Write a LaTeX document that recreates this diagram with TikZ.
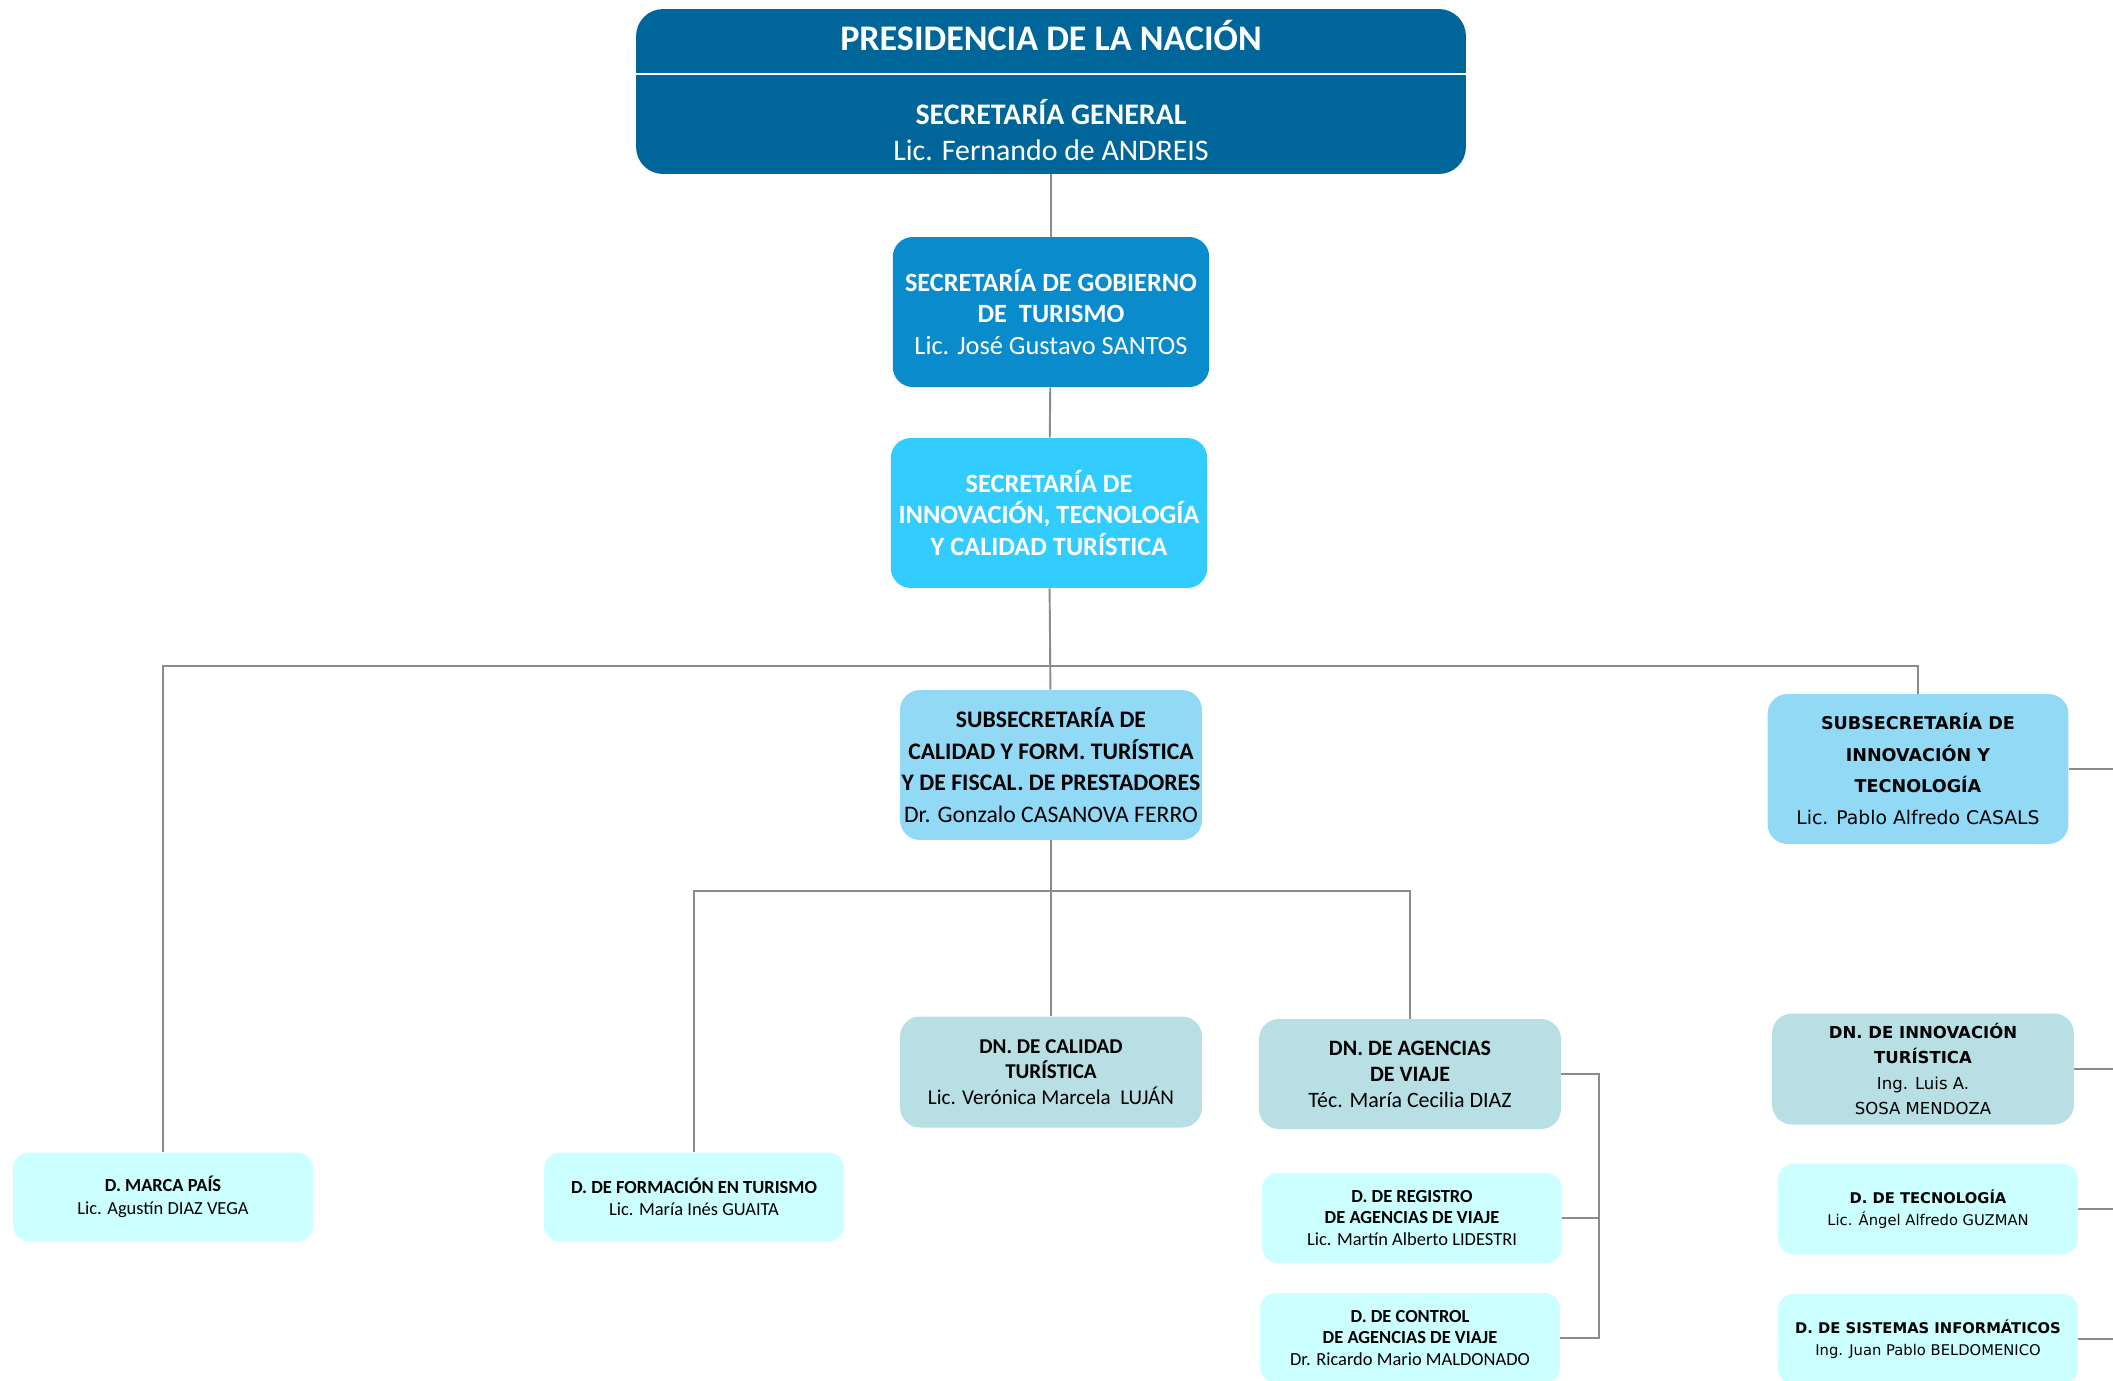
\documentclass[tikz,border=0pt]{standalone}
\usepackage{fontspec}
\setmainfont{Carlito}
\newfontfamily\verd{DejaVu Sans}
\definecolor{presi}{HTML}{00669A}
\definecolor{gobi}{HTML}{0A8BCC}
\definecolor{innov}{HTML}{33CCFF}
\definecolor{subs}{HTML}{92D9F6}
\definecolor{dnac}{HTML}{B8DFE3}
\definecolor{dire}{HTML}{CCFFFF}
\definecolor{wire}{HTML}{8C8C8C}
\tikzset{
  box/.style={rounded corners=0.4cm,inner sep=0pt,align=center,minimum width=6.04cm},
  secbox/.style={box,fill=#1,text=white,minimum width=6.33cm,minimum height=3cm,font=\fontsize{15}{18}\selectfont},
  subbox/.style={box,fill=subs,minimum height=3cm,font=\fontsize{13.5}{18}\selectfont},
  dnbox/.style={box,fill=dnac,minimum height=2.22cm,font=\fontsize{12}{14.5}\selectfont},
  dbox/.style={box,fill=dire,rounded corners=0.32cm,minimum width=6cm,minimum height=1.78cm,font=\fontsize{10.5}{12.8}\selectfont},
  conn/.style={draw=wire,line width=1.1pt},
}
\begin{document}
\begin{tikzpicture}[x=0.02cm,y=-0.02cm]
  \useasboundingbox (0,0) rectangle (2113,1380);
  % cabecera
  \node[box,fill=presi,rounded corners=0.54cm,minimum width=16.6cm,minimum height=3.3cm] (pres) at (1051,91.5) {};
  \draw[white,line width=0.7pt] (636,74) -- (1466,74);
  \node[text=white,font=\bfseries\fontsize{20.5}{24}\selectfont] (presT) at (1051,35) {PRESIDENCIA DE LA NACIÓN};
  \node[text=white,align=center,font=\fontsize{17}{20.6}\selectfont] (sg) at (1051,130)
    {\textbf{SECRETARÍA GENERAL}\\Lic. Fernando de ANDREIS};
  % secretarias
  \node[secbox=gobi] (gob) at (1051,312)
    {\textbf{SECRETARÍA DE GOBIERNO}\\\textbf{DE\ \ TURISMO}\\Lic. José Gustavo SANTOS};
  \node[secbox=innov,font=\bfseries\fontsize{15}{18}\selectfont] (isec) at (1049,513)
    {SECRETARÍA DE\\INNOVACIÓN, TECNOLOGÍA\\Y CALIDAD TURÍSTICA};
  % subsecretarias
  \node[subbox] (scal) at (1051,765)
    {\textbf{SUBSECRETARÍA DE}\\\textbf{CALIDAD Y FORM. TURÍSTICA}\\\textbf{Y DE FISCAL. DE PRESTADORES}\\Dr. Gonzalo CASANOVA FERRO};
  \node[subbox,minimum width=6.02cm,font=\verd\fontsize{10}{18}\selectfont] (sinn) at (1918,769)
    {\textbf{SUBSECRETARÍA DE}\\\textbf{INNOVACIÓN Y}\\\textbf{TECNOLOGÍA}\\\fontsize{10.7}{18}\selectfont Lic. Pablo Alfredo CASALS};
  % direcciones nacionales
  \node[dnbox] (dncal) at (1051,1072)
    {\textbf{DN. DE CALIDAD}\\\textbf{TURÍSTICA}\\Lic. Verónica Marcela\ \ LUJÁN};
  \node[dnbox,minimum height=2.2cm,font=\fontsize{12.5}{14.8}\selectfont] (dnag) at (1410,1074)
    {\textbf{DN. DE AGENCIAS}\\\textbf{DE VIAJE}\\Téc. María Cecilia DIAZ};
  \node[dnbox,font=\verd\fontsize{9.4}{14.5}\selectfont] (dninn) at (1923,1069)
    {\textbf{DN. DE INNOVACIÓN}\\\textbf{TURÍSTICA}\\Ing. Luis A.\\SOSA MENDOZA};
  % direcciones
  \node[dbox] (marca) at (163,1197) {\textbf{D. MARCA PAÍS}\\Lic. Agustín DIAZ VEGA};
  \node[dbox] (form) at (694,1197) {\textbf{D. DE FORMACIÓN EN TURISMO}\\Lic. María Inés GUAITA};
  \node[dbox,minimum height=1.8cm,font=\fontsize{10.5}{12.2}\selectfont] (reg) at (1412,1218)
    {\textbf{D. DE REGISTRO}\\\textbf{DE AGENCIAS DE VIAJE}\\Lic. Martín Alberto LIDESTRI};
  \node[dbox,minimum height=1.8cm,font=\fontsize{10.5}{12.2}\selectfont] (ctrl) at (1410,1338)
    {\textbf{D. DE CONTROL}\\\textbf{DE AGENCIAS DE VIAJE}\\Dr. Ricardo Mario MALDONADO};
  \node[dbox,minimum height=1.82cm,font=\verd\fontsize{8.4}{12.8}\selectfont] (dtec) at (1928,1209)
    {\textbf{D. DE TECNOLOGÍA}\\Lic. Ángel Alfredo GUZMAN};
  \node[dbox,minimum height=1.82cm,font=\verd\fontsize{8.4}{12.8}\selectfont] (dsis) at (1928,1339)
    {\textbf{D. DE SISTEMAS INFORMÁTICOS}\\Ing. Juan Pablo BELDOMENICO};
  % conectores
  \coordinate (busA) at (1051,666);
  \coordinate (busB) at (1051,891);
  \coordinate (agX) at (1599,0);
  \coordinate (edge) at (2113,0);
  \draw[conn] (pres) -- (gob);
  \draw[conn] (gob) -- (isec);
  \draw[conn] (isec) -- (scal);
  \draw[conn] (marca.north) |- (busA) -| (sinn.north);
  \draw[conn] (scal) -- (dncal);
  \draw[conn] (form.north) |- (busB) -| (dnag.north);
  \draw[conn] (dnag.east) -| (agX |- ctrl.east) -- (ctrl.east);
  \draw[conn] (reg.east) -- (reg.east -| agX);
  \draw[conn] (sinn.east) -- (sinn.east -| edge);
  \draw[conn] (dninn.east) -- (dninn.east -| edge);
  \draw[conn] (dtec.east) -- (dtec.east -| edge);
  \draw[conn] (dsis.east) -- (dsis.east -| edge);
\end{tikzpicture}
\end{document}
